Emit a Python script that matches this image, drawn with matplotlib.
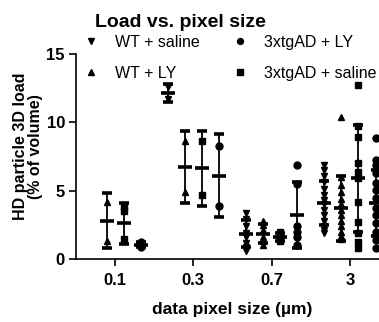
import matplotlib
matplotlib.use("Agg")
import matplotlib.pyplot as plt
import numpy as np

plt.rcParams['font.family'] = ['Liberation Sans', 'DejaVu Sans']

# ---- data ----
pixel_sizes = ['0.1', '0.3', '0.7', '3']
series_names = ['WT + saline', 'WT + LY', '3xtgAD + saline', '3xtgAD + LY']
legend_order = ['WT + saline', 'WT + LY', '3xtgAD + LY', '3xtgAD + saline']
markers = {'WT + saline': 'v', 'WT + LY': '^', '3xtgAD + saline': 's', '3xtgAD + LY': 'o'}

# individual points per series, per pixel size
wt_saline_pts = [[], [12.6, 11.7],
                 [3.4, 2.9, 2.4, 1.9, 1.6, 1.2, 0.9, 0.6],
                 [6.9, 6.5, 6.1, 5.6, 5.1, 4.7, 4.3, 4.0, 3.6, 3.2, 2.8, 2.4, 2.1, 1.9]]
wt_ly_pts = [[4.2, 1.35], [8.6, 4.9],
             [2.8, 2.5, 2.1, 1.6, 1.3, 1.0],
             [10.4, 6.0, 5.4, 4.9, 4.4, 4.0, 3.6, 3.2, 2.8, 2.4, 2.0, 1.7, 1.5]]
ad_saline_pts = [[3.8, 3.5, 1.5], [8.6, 4.7],
                 [1.95, 1.75, 1.5, 1.3],
                 [12.7, 9.7, 8.9, 7.0, 6.4, 5.9, 4.2, 2.7, 1.9, 1.25, 0.8]]
ad_ly_pts = [[1.25, 1.05, 0.9], [8.3, 3.9],
             [6.9, 5.5, 2.4, 2.0, 1.6, 1.0],
             [8.85, 7.25, 6.9, 6.3, 5.55, 5.05, 4.5, 3.7, 3.2, 2.65, 2.0, 1.4, 0.8]]

# mean and SD per series, per pixel size (None = no group)
wt_saline_mean = [None, 12.15, 1.85, 4.1]
wt_saline_sd = [None, 0.65, 1.0, 1.6]
wt_ly_mean = [2.8, 6.75, 1.85, 3.7]
wt_ly_sd = [2.0, 2.65, 0.7, 2.4]
ad_saline_mean = [2.6, 6.65, 1.6, 5.9]
ad_saline_sd = [1.5, 2.75, 0.3, 3.9]
ad_ly_mean = [1.05, 6.1, 3.2, 4.1]
ad_ly_sd = [0.18, 3.05, 2.4, 2.4]

points = {'WT + saline': wt_saline_pts, 'WT + LY': wt_ly_pts,
          '3xtgAD + saline': ad_saline_pts, '3xtgAD + LY': ad_ly_pts}
means = {'WT + saline': wt_saline_mean, 'WT + LY': wt_ly_mean,
         '3xtgAD + saline': ad_saline_mean, '3xtgAD + LY': ad_ly_mean}
sds = {'WT + saline': wt_saline_sd, 'WT + LY': wt_ly_sd,
       '3xtgAD + saline': ad_saline_sd, '3xtgAD + LY': ad_ly_sd}

offsets = [-0.33, -0.11, 0.11, 0.33]

W, H = 379, 322
fig = plt.figure(figsize=(W / 100, H / 100), dpi=100)
ax = fig.add_axes([76 / W, 63 / H, 313 / W, 205 / H])

handles = {}
for si, name in enumerate(series_names):
    for gi, g in enumerate(pixel_sizes):
        pts = points[name][gi]
        if not pts:
            continue
        x = gi + offsets[si]
        h = ax.plot([x] * len(pts), pts, linestyle='none', marker=markers[name],
                    color='black', markersize=5, zorder=3)[0]
        handles[name] = h
        m = means[name][gi]
        s = sds[name][gi]
        ax.errorbar([x], [m], yerr=[s], fmt='_', color='black', ms=10, mew=2.6,
                    elinewidth=1.3, capsize=3.5, capthick=1.3, zorder=4)

ax.set_xlim(-0.5, 3.5)
ax.set_ylim(0, 15)
ax.set_xticks(range(len(pixel_sizes)))
ax.set_xticklabels(pixel_sizes)
ax.set_yticks([0, 5, 10, 15])
for sp in ['top', 'right']:
    ax.spines[sp].set_visible(False)
for sp in ['left', 'bottom']:
    ax.spines[sp].set_linewidth(1.2)
ax.tick_params(width=1.2, length=5, labelsize=12)
ax.tick_params(axis='x', pad=5)
ax.tick_params(axis='y', pad=3)
for lab in ax.get_xticklabels() + ax.get_yticklabels():
    lab.set_fontweight('bold')

ax.set_xlabel('data pixel size (µm)', fontsize=12.5, fontweight='bold', labelpad=10)
ax.set_ylabel('HD particle 3D load\n(% of volume)', fontsize=11.5, fontweight='bold',
              linespacing=1.0)
ax.yaxis.set_label_coords(-0.105, 0.55)

fig.text(180 / W, 1 - 27 / H, 'Load vs. pixel size', fontsize=14, fontweight='bold',
         ha='center', va='baseline')

leg = fig.legend([handles[n] for n in legend_order], legend_order, ncol=2,
                 loc='upper left', bbox_to_anchor=(83 / W, 1 - 35 / H),
                 frameon=False, fontsize=11.5, handlelength=1.0, handletextpad=1.0,
                 columnspacing=2.0, labelspacing=1.0, markerscale=0.85,
                 borderaxespad=0, borderpad=0)

fig.savefig('out.png', dpi=100)
